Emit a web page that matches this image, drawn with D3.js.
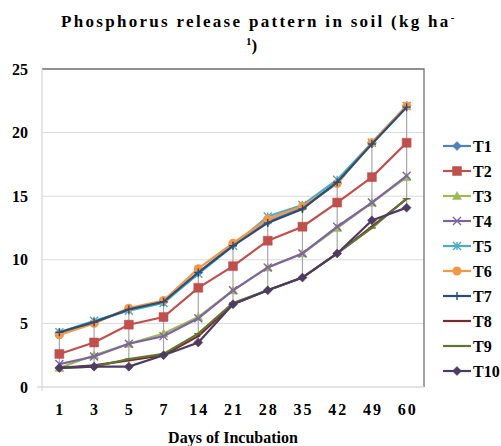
<!DOCTYPE html>
<html lang="en">
<head>
<meta charset="UTF-8">
<title>Phosphorus release pattern</title>
<script src="https://d3js.org/d3.v7.min.js"></script>
<style>
  body { margin: 0; background: #fff; }
  text { font-family: "Liberation Serif", "Times New Roman", serif; font-weight: bold; fill: #000; }
</style>
</head>
<body>
<svg width="501" height="446"></svg>
<script>
// data
const days = ["1", "3", "5", "7", "14", "21", "28", "35", "42", "49", "60"];
const names = ["T1", "T2", "T3", "T4", "T5", "T6", "T7", "T8", "T9", "T10"];
const T1  = [4.2, 5.1, 6.1, 6.7, 9.0, 11.2, 13.0, 14.1, 16.0, 19.2, 22.1];
const T2  = [2.6, 3.5, 4.9, 5.5, 7.8, 9.5, 11.5, 12.6, 14.5, 16.5, 19.2];
const T3  = [1.5, 2.5, 3.4, 4.2, 5.5, 7.6, 9.4, 10.5, 12.5, 14.5, 16.5];
const T4  = [1.8, 2.4, 3.4, 4.0, 5.4, 7.6, 9.4, 10.5, 12.6, 14.5, 16.6];
const T5  = [4.3, 5.2, 6.0, 6.6, 8.9, 11.1, 13.4, 14.3, 16.3, 19.2, 22.1];
const T6  = [4.1, 5.0, 6.2, 6.8, 9.3, 11.3, 13.2, 14.2, 16.0, 19.2, 22.1];
const T7  = [4.3, 5.1, 6.1, 6.7, 9.0, 11.1, 12.9, 14.0, 16.1, 19.1, 22.0];
const T8  = [1.5, 1.7, 2.1, 2.5, 4.0, 6.5, 7.6, 8.6, 10.5, 12.6, 14.8];
const T9  = [1.5, 1.6, 2.2, 2.6, 4.2, 6.6, 7.6, 8.6, 10.5, 12.5, 14.8];
const T10 = [1.5, 1.6, 1.6, 2.5, 3.5, 6.5, 7.6, 8.6, 10.5, 13.1, 14.1];
const yTicks = [0, 5, 10, 15, 20, 25];

const values = [T1, T2, T3, T4, T5, T6, T7, T8, T9, T10];
const colors = ["#4F81BD", "#C0504D", "#9BBB59", "#8064A2", "#4BACC6",
                "#F79646", "#2C4D75", "#772C2A", "#5F7530", "#4D3B62"];
const shapes = ["diamond", "square", "triangle", "x", "star",
                "circle", "plus", "dash", "longdash", "diamond"];

const svg = d3.select("svg");
const plot = {left: 42, right: 424, top: 69, bottom: 387};

const x = d3.scaleBand().domain(days).range([plot.left, plot.right]);
const y = d3.scaleLinear().domain([0, 25]).range([plot.bottom, plot.top]);
const cx = d => x(d) + x.bandwidth() / 2;

// marker path centred on 0,0
function marker(type, r) {
  switch (type) {
    case "diamond": return `M0,${-r}L${r},0L0,${r}L${-r},0Z`;
    case "square": return `M${-r},${-r}H${r}V${r}H${-r}Z`;
    case "triangle": return `M0,${-r}L${r},${r * 0.8}L${-r},${r * 0.8}Z`;
    case "x": return `M${-r},${-r}L${r},${r}M${-r},${r}L${r},${-r}`;
    case "star": return `M${-r},${-r}L${r},${r}M${-r},${r}L${r},${-r}M0,${-r}V${r}`;
    case "plus": return `M${-r},0H${r}M0,${-r}V${r}`;
    case "dash": return `M${-r * 0.5},0H${r * 0.5}`;
    case "longdash": return `M${-r},0H${r}`;
    default: return "";
  }
}

// gridlines
svg.append("g").selectAll("line")
  .data(yTicks.slice(1, -1))
  .join("line")
  .attr("x1", plot.left).attr("x2", plot.right)
  .attr("y1", d => y(d)).attr("y2", d => y(d))
  .attr("stroke", "#D9D9D9");

// plot border (top & right)
svg.append("path")
  .attr("d", `M${plot.left},${plot.top}H${plot.right}V${plot.bottom}`)
  .attr("fill", "none").attr("stroke", "#6E6E6E").attr("stroke-width", 1.3);

// axes
svg.append("line")
  .attr("x1", plot.left).attr("x2", plot.left)
  .attr("y1", plot.top).attr("y2", plot.bottom + 4)
  .attr("stroke", "#D9D9D9").attr("stroke-width", 1.3);
svg.append("line")
  .attr("x1", plot.left - 5).attr("x2", plot.right)
  .attr("y1", plot.bottom).attr("y2", plot.bottom)
  .attr("stroke", "#D9D9D9").attr("stroke-width", 1.3);

svg.append("g").selectAll("text")
  .data(yTicks)
  .join("text")
  .attr("x", 28).attr("y", d => y(d) + 5.5)
  .attr("text-anchor", "end")
  .style("font-size", "16px")
  .text(d => d);

svg.append("g").selectAll("text")
  .data(days)
  .join("text")
  .attr("x", d => cx(d) + 1).attr("y", 415)
  .attr("text-anchor", "middle")
  .style("font-size", "16px")
  .style("letter-spacing", "2px")
  .text(d => d);

// high-low lines
svg.append("g").selectAll("line")
  .data(days)
  .join("line")
  .attr("x1", d => cx(d)).attr("x2", d => cx(d))
  .attr("y1", (d, i) => y(d3.max(values, v => v[i])))
  .attr("y2", (d, i) => y(d3.min(values, v => v[i])))
  .attr("stroke", "#A6A6A6").attr("stroke-width", 1.2);

// series
const line = d3.line().x((v, i) => cx(days[i])).y(v => y(v));
values.forEach((vals, s) => {
  const g = svg.append("g");
  g.append("path")
    .attr("d", line(vals))
    .attr("fill", "none")
    .attr("stroke", colors[s])
    .attr("stroke-width", 2.2);
  const filled = ["diamond", "square", "triangle", "circle"].includes(shapes[s]);
  g.selectAll(".m")
    .data(vals)
    .join(shapes[s] === "circle" ? "circle" : "path")
    .each(function(v, i) {
      const el = d3.select(this);
      if (shapes[s] === "circle") {
        el.attr("cx", cx(days[i])).attr("cy", y(v)).attr("r", 4.5).attr("fill", colors[s]);
      } else {
        el.attr("transform", `translate(${cx(days[i])},${y(v)})`)
          .attr("d", marker(shapes[s], filled ? 4.5 : 4))
          .attr("fill", filled ? colors[s] : "none")
          .attr("stroke", colors[s])
          .attr("stroke-width", filled ? 0.5 : 1.4);
      }
    });
});

// legend
const legend = svg.append("g");
names.forEach((n, s) => {
  const ly = 146 + s * 25;
  legend.append("line")
    .attr("x1", 443).attr("x2", 471).attr("y1", ly).attr("y2", ly)
    .attr("stroke", colors[s]).attr("stroke-width", 2.2);
  const filled = ["diamond", "square", "triangle", "circle"].includes(shapes[s]);
  if (shapes[s] === "circle") {
    legend.append("circle").attr("cx", 457).attr("cy", ly).attr("r", 4.5).attr("fill", colors[s]);
  } else {
    legend.append("path")
      .attr("transform", `translate(457,${ly})`)
      .attr("d", marker(shapes[s], filled ? 4.5 : 4))
      .attr("fill", filled ? colors[s] : "none")
      .attr("stroke", colors[s]).attr("stroke-width", filled ? 0.5 : 1.4);
  }
  legend.append("text")
    .attr("x", 473).attr("y", ly + 5.5)
    .style("font-size", "16px")
    .text(n);
});

// title
const t1 = svg.append("text")
  .attr("x", 61).attr("y", 27)
  .style("font-size", "17px")
  .style("letter-spacing", "2.3px");
t1.append("tspan").text("Phosphorus release pattern in soil (kg ha");
t1.append("tspan").attr("dy", -6).style("font-size", "11px").text("-");

const t2 = svg.append("text")
  .attr("x", 246).attr("y", 51)
  .style("font-size", "17px");
t2.append("tspan").attr("dy", -6).style("font-size", "11px").text("1");
t2.append("tspan").attr("dy", 6).text(")");

// x axis title
svg.append("text")
  .attr("x", 233).attr("y", 443)
  .attr("text-anchor", "middle")
  .style("font-size", "16px")
  .text("Days of Incubation");
</script>
</body>
</html>
